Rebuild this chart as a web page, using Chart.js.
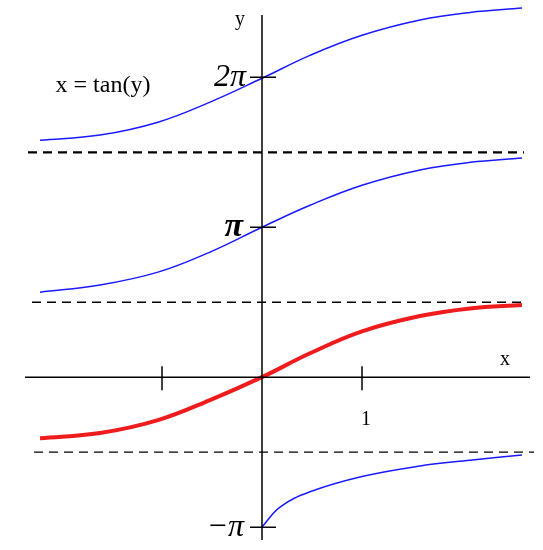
<!DOCTYPE html>
<html><head><meta charset="utf-8">
<script src="https://cdn.jsdelivr.net/npm/chart.js@4"></script>
<style>body{margin:0;background:#fff}</style>
</head><body>
<canvas id="c" width="543" height="550"></canvas>
<script>
// x positions for the branches and y values
const xs = [-2.22,-1.62,-1.04,-0.52,0,0.48,1.0,1.58,2.08,2.6];
const yTop = [4.96,5.07,5.34,5.76,6.26,6.74,7.16,7.48,7.64,7.73];
const yMid = [1.78,1.93,2.20,2.62,3.14,3.60,4.02,4.34,4.50,4.59];
const yMain = [-1.28,-1.17,-0.90,-0.48,0,0.50,0.96,1.28,1.44,1.51];
const xsLow = [0,0.18,0.48,1.0,1.58,2.08,2.6];
const yLow = [-3.14,-2.72,-2.40,-2.08,-1.86,-1.74,-1.63];
const asym = [[4.71,-2.34,2.62,2.2],[1.57,-2.3,2.6,1.4],[-1.57,-2.28,2.72,1.4]];

const pts=(a,b)=>a.map((x,i)=>({x,y:b[i]}));
const curve=(d,col,w)=>({data:d,borderColor:col,borderWidth:w,pointRadius:0,tension:0.4,fill:false});
const ds=[curve(pts(xs,yTop),"#1a1aff",1.5),curve(pts(xs,yMid),"#1a1aff",1.5),
  curve(pts(xsLow,yLow),"#1a1aff",1.5),curve(pts(xs,yMain),"#ee1c1c",4)];
asym.forEach(([y,a,b,w])=>ds.push({data:[{x:a,y},{x:b,y}],borderColor:"#000",borderWidth:w,borderDash:[9,6],pointRadius:0}));

const axes={id:"axes",afterDatasetsDraw(ch){
  const c=ch.ctx,X=ch.scales.x,Y=ch.scales.y,x0=X.getPixelForValue(0),y0=Y.getPixelForValue(0);
  c.save();c.strokeStyle="#000";c.lineWidth=1.5;c.beginPath();
  c.moveTo(25,y0);c.lineTo(530,y0);c.moveTo(x0,15);c.lineTo(x0,540);
  [-1,1].forEach(v=>{const p=X.getPixelForValue(v);c.moveTo(p,y0-11);c.lineTo(p,y0+13);});
  [Math.PI,2*Math.PI,-Math.PI].forEach(v=>{const p=Y.getPixelForValue(v);c.moveTo(x0-12,p);c.lineTo(x0+14,p);});
  c.stroke();
  c.fillStyle="#000";c.textBaseline="middle";c.textAlign="center";
  c.font="20px 'Liberation Serif'";
  c.fillText("y",240,20);c.fillText("x",505,360);c.fillText("1",366,420);
  c.font="24px 'Liberation Serif'";c.fillText("x = tan(y)",103,86);
  c.font="italic 32px 'Liberation Serif'";c.textAlign="right";
  c.fillText("2π",246,Y.getPixelForValue(2*Math.PI));
  c.font="bold italic 34px 'Liberation Serif'";c.fillText("π",243,Y.getPixelForValue(Math.PI));
  c.font="italic 32px 'Liberation Serif'";c.fillText("−π",244,Y.getPixelForValue(-Math.PI));
  c.restore();}};

new Chart(document.getElementById("c"),{type:"line",data:{datasets:ds},plugins:[axes],
  options:{responsive:false,animation:false,layout:{padding:0},plugins:{legend:{display:false},tooltip:{enabled:false}},
    scales:{x:{type:"linear",min:-2.62,max:2.81,display:false},y:{type:"linear",min:-3.62,max:7.9,display:false}}}});
</script>
</body></html>
